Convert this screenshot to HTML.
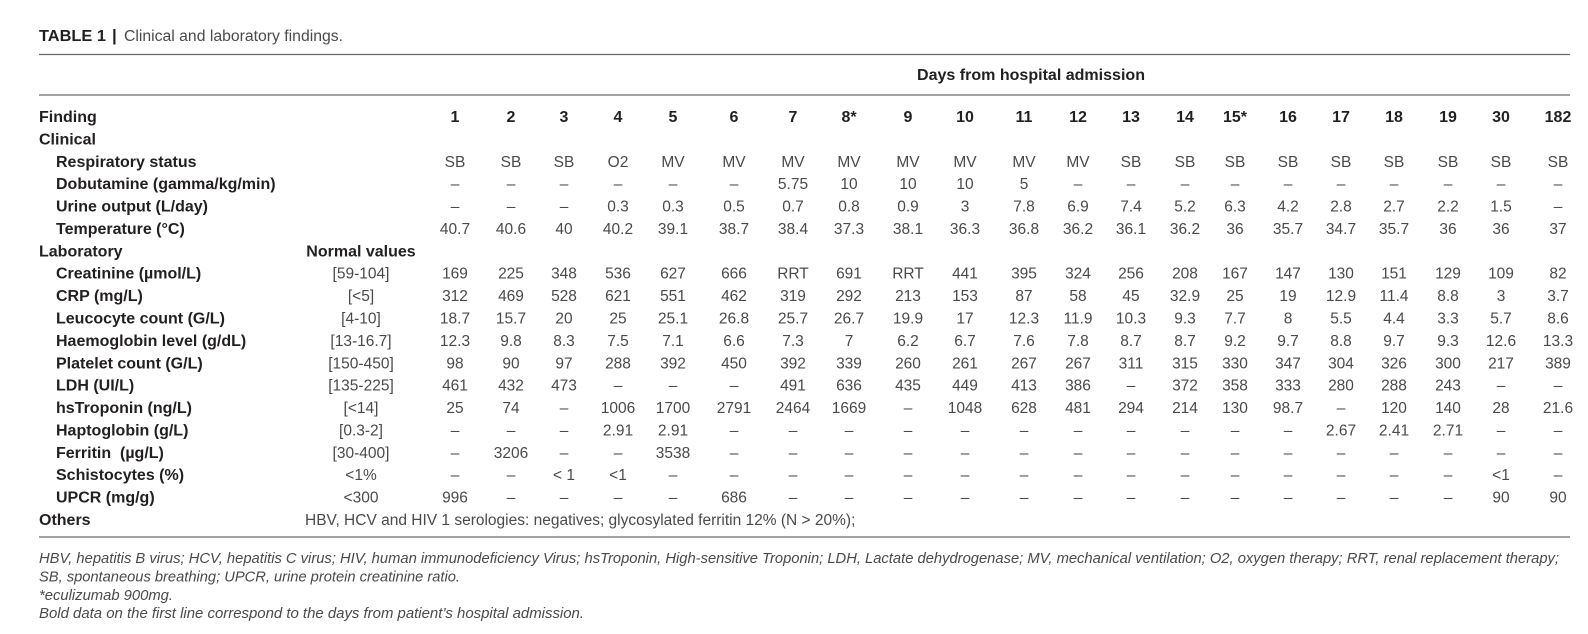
<!DOCTYPE html>
<html>
<head>
<meta charset="utf-8">
<style>
  html, body { margin: 0; padding: 0; background: #ffffff; }
  body { width: 1588px; height: 634px; overflow: hidden; }
  svg { display: block; }
  .b { font-family: "Liberation Sans", Arial, sans-serif; font-weight: bold; font-size: 16px; fill: #231f20; }
  .r { font-family: "Liberation Sans", Arial, sans-serif; font-weight: normal; font-size: 15.5px; fill: #4a4a4a; }
  .i { font-family: "Liberation Sans", Arial, sans-serif; font-style: italic; font-size: 14.7px; fill: #4a4a4a; }
  .t { font-family: "Liberation Sans", Arial, sans-serif; font-size: 15.5px; fill: #4a4a4a; }
</style>
</head>
<body>
<svg width="1588" height="634" viewBox="0 0 1588 634" xmlns="http://www.w3.org/2000/svg">
  <rect x="0" y="0" width="1588" height="634" fill="#ffffff"/>

  <!-- Title -->
  <text class="b" x="39" y="41" textLength="67" lengthAdjust="spacingAndGlyphs">TABLE 1</text>
  <text class="b" x="112" y="41" style="font-size:17px">|</text>
  <text class="t" x="124" y="41" textLength="219" lengthAdjust="spacingAndGlyphs">Clinical and laboratory findings.</text>

  <!-- Rules -->
  <line x1="39" y1="54.5" x2="1570" y2="54.5" stroke="#6a6a6a" stroke-width="1.3"/>
  <line x1="39" y1="95" x2="1570" y2="95" stroke="#6a6a6a" stroke-width="1.3"/>
  <line x1="39" y1="537" x2="1570" y2="537" stroke="#6a6a6a" stroke-width="1.3"/>

  <!-- Days header -->
  <text class="b" x="917" y="80" textLength="228" lengthAdjust="spacingAndGlyphs">Days from hospital admission</text>

  <!-- Header row -->
  <text class="b" x="39" y="122">Finding</text>
  <text class="b" y="122" text-anchor="middle"><tspan x="455">1</tspan><tspan x="511">2</tspan><tspan x="564">3</tspan><tspan x="618">4</tspan><tspan x="673">5</tspan><tspan x="734">6</tspan><tspan x="793">7</tspan><tspan x="849">8*</tspan><tspan x="908">9</tspan><tspan x="965">10</tspan><tspan x="1024">11</tspan><tspan x="1078">12</tspan><tspan x="1131">13</tspan><tspan x="1185">14</tspan><tspan x="1235">15*</tspan><tspan x="1288">16</tspan><tspan x="1341">17</tspan><tspan x="1394">18</tspan><tspan x="1448">19</tspan><tspan x="1501">30</tspan><tspan x="1558">182</tspan></text>

  <!-- Clinical -->
  <text class="b" x="39" y="144.4">Clinical</text>

  <text class="b" x="56" y="166.8">Respiratory status</text>
  <text class="r" y="166.8" text-anchor="middle"><tspan x="455">SB</tspan><tspan x="511">SB</tspan><tspan x="564">SB</tspan><tspan x="618">O2</tspan><tspan x="673">MV</tspan><tspan x="734">MV</tspan><tspan x="793">MV</tspan><tspan x="849">MV</tspan><tspan x="908">MV</tspan><tspan x="965">MV</tspan><tspan x="1024">MV</tspan><tspan x="1078">MV</tspan><tspan x="1131">SB</tspan><tspan x="1185">SB</tspan><tspan x="1235">SB</tspan><tspan x="1288">SB</tspan><tspan x="1341">SB</tspan><tspan x="1394">SB</tspan><tspan x="1448">SB</tspan><tspan x="1501">SB</tspan><tspan x="1558">SB</tspan></text>

  <text class="b" x="56" y="189.2">Dobutamine (gamma/kg/min)</text>
  <text class="r" y="189.2" text-anchor="middle"><tspan x="455">–</tspan><tspan x="511">–</tspan><tspan x="564">–</tspan><tspan x="618">–</tspan><tspan x="673">–</tspan><tspan x="734">–</tspan><tspan x="793">5.75</tspan><tspan x="849">10</tspan><tspan x="908">10</tspan><tspan x="965">10</tspan><tspan x="1024">5</tspan><tspan x="1078">–</tspan><tspan x="1131">–</tspan><tspan x="1185">–</tspan><tspan x="1235">–</tspan><tspan x="1288">–</tspan><tspan x="1341">–</tspan><tspan x="1394">–</tspan><tspan x="1448">–</tspan><tspan x="1501">–</tspan><tspan x="1558">–</tspan></text>

  <text class="b" x="56" y="211.6">Urine output (L/day)</text>
  <text class="r" y="211.6" text-anchor="middle"><tspan x="455">–</tspan><tspan x="511">–</tspan><tspan x="564">–</tspan><tspan x="618">0.3</tspan><tspan x="673">0.3</tspan><tspan x="734">0.5</tspan><tspan x="793">0.7</tspan><tspan x="849">0.8</tspan><tspan x="908">0.9</tspan><tspan x="965">3</tspan><tspan x="1024">7.8</tspan><tspan x="1078">6.9</tspan><tspan x="1131">7.4</tspan><tspan x="1185">5.2</tspan><tspan x="1235">6.3</tspan><tspan x="1288">4.2</tspan><tspan x="1341">2.8</tspan><tspan x="1394">2.7</tspan><tspan x="1448">2.2</tspan><tspan x="1501">1.5</tspan><tspan x="1558">–</tspan></text>

  <text class="b" x="56" y="234">Temperature (°C)</text>
  <text class="r" y="234" text-anchor="middle"><tspan x="455">40.7</tspan><tspan x="511">40.6</tspan><tspan x="564">40</tspan><tspan x="618">40.2</tspan><tspan x="673">39.1</tspan><tspan x="734">38.7</tspan><tspan x="793">38.4</tspan><tspan x="849">37.3</tspan><tspan x="908">38.1</tspan><tspan x="965">36.3</tspan><tspan x="1024">36.8</tspan><tspan x="1078">36.2</tspan><tspan x="1131">36.1</tspan><tspan x="1185">36.2</tspan><tspan x="1235">36</tspan><tspan x="1288">35.7</tspan><tspan x="1341">34.7</tspan><tspan x="1394">35.7</tspan><tspan x="1448">36</tspan><tspan x="1501">36</tspan><tspan x="1558">37</tspan></text>

  <!-- Laboratory -->
  <text class="b" x="39" y="256.3">Laboratory</text>
  <text class="b" x="361" y="256.3" text-anchor="middle">Normal values</text>

  <text class="b" x="56" y="278.7">Creatinine (µmol/L)</text>
  <text class="r" x="361" y="278.7" text-anchor="middle">[59-104]</text>
  <text class="r" y="278.7" text-anchor="middle"><tspan x="455">169</tspan><tspan x="511">225</tspan><tspan x="564">348</tspan><tspan x="618">536</tspan><tspan x="673">627</tspan><tspan x="734">666</tspan><tspan x="793">RRT</tspan><tspan x="849">691</tspan><tspan x="908">RRT</tspan><tspan x="965">441</tspan><tspan x="1024">395</tspan><tspan x="1078">324</tspan><tspan x="1131">256</tspan><tspan x="1185">208</tspan><tspan x="1235">167</tspan><tspan x="1288">147</tspan><tspan x="1341">130</tspan><tspan x="1394">151</tspan><tspan x="1448">129</tspan><tspan x="1501">109</tspan><tspan x="1558">82</tspan></text>

  <text class="b" x="56" y="301.1">CRP (mg/L)</text>
  <text class="r" x="361" y="301.1" text-anchor="middle">[&lt;5]</text>
  <text class="r" y="301.1" text-anchor="middle"><tspan x="455">312</tspan><tspan x="511">469</tspan><tspan x="564">528</tspan><tspan x="618">621</tspan><tspan x="673">551</tspan><tspan x="734">462</tspan><tspan x="793">319</tspan><tspan x="849">292</tspan><tspan x="908">213</tspan><tspan x="965">153</tspan><tspan x="1024">87</tspan><tspan x="1078">58</tspan><tspan x="1131">45</tspan><tspan x="1185">32.9</tspan><tspan x="1235">25</tspan><tspan x="1288">19</tspan><tspan x="1341">12.9</tspan><tspan x="1394">11.4</tspan><tspan x="1448">8.8</tspan><tspan x="1501">3</tspan><tspan x="1558">3.7</tspan></text>

  <text class="b" x="56" y="323.5">Leucocyte count (G/L)</text>
  <text class="r" x="361" y="323.5" text-anchor="middle">[4-10]</text>
  <text class="r" y="323.5" text-anchor="middle"><tspan x="455">18.7</tspan><tspan x="511">15.7</tspan><tspan x="564">20</tspan><tspan x="618">25</tspan><tspan x="673">25.1</tspan><tspan x="734">26.8</tspan><tspan x="793">25.7</tspan><tspan x="849">26.7</tspan><tspan x="908">19.9</tspan><tspan x="965">17</tspan><tspan x="1024">12.3</tspan><tspan x="1078">11.9</tspan><tspan x="1131">10.3</tspan><tspan x="1185">9.3</tspan><tspan x="1235">7.7</tspan><tspan x="1288">8</tspan><tspan x="1341">5.5</tspan><tspan x="1394">4.4</tspan><tspan x="1448">3.3</tspan><tspan x="1501">5.7</tspan><tspan x="1558">8.6</tspan></text>

  <text class="b" x="56" y="345.9">Haemoglobin level (g/dL)</text>
  <text class="r" x="361" y="345.9" text-anchor="middle">[13-16.7]</text>
  <text class="r" y="345.9" text-anchor="middle"><tspan x="455">12.3</tspan><tspan x="511">9.8</tspan><tspan x="564">8.3</tspan><tspan x="618">7.5</tspan><tspan x="673">7.1</tspan><tspan x="734">6.6</tspan><tspan x="793">7.3</tspan><tspan x="849">7</tspan><tspan x="908">6.2</tspan><tspan x="965">6.7</tspan><tspan x="1024">7.6</tspan><tspan x="1078">7.8</tspan><tspan x="1131">8.7</tspan><tspan x="1185">8.7</tspan><tspan x="1235">9.2</tspan><tspan x="1288">9.7</tspan><tspan x="1341">8.8</tspan><tspan x="1394">9.7</tspan><tspan x="1448">9.3</tspan><tspan x="1501">12.6</tspan><tspan x="1558">13.3</tspan></text>

  <text class="b" x="56" y="368.3">Platelet count (G/L)</text>
  <text class="r" x="361" y="368.3" text-anchor="middle">[150-450]</text>
  <text class="r" y="368.3" text-anchor="middle"><tspan x="455">98</tspan><tspan x="511">90</tspan><tspan x="564">97</tspan><tspan x="618">288</tspan><tspan x="673">392</tspan><tspan x="734">450</tspan><tspan x="793">392</tspan><tspan x="849">339</tspan><tspan x="908">260</tspan><tspan x="965">261</tspan><tspan x="1024">267</tspan><tspan x="1078">267</tspan><tspan x="1131">311</tspan><tspan x="1185">315</tspan><tspan x="1235">330</tspan><tspan x="1288">347</tspan><tspan x="1341">304</tspan><tspan x="1394">326</tspan><tspan x="1448">300</tspan><tspan x="1501">217</tspan><tspan x="1558">389</tspan></text>

  <text class="b" x="56" y="390.7">LDH (UI/L)</text>
  <text class="r" x="361" y="390.7" text-anchor="middle">[135-225]</text>
  <text class="r" y="390.7" text-anchor="middle"><tspan x="455">461</tspan><tspan x="511">432</tspan><tspan x="564">473</tspan><tspan x="618">–</tspan><tspan x="673">–</tspan><tspan x="734">–</tspan><tspan x="793">491</tspan><tspan x="849">636</tspan><tspan x="908">435</tspan><tspan x="965">449</tspan><tspan x="1024">413</tspan><tspan x="1078">386</tspan><tspan x="1131">–</tspan><tspan x="1185">372</tspan><tspan x="1235">358</tspan><tspan x="1288">333</tspan><tspan x="1341">280</tspan><tspan x="1394">288</tspan><tspan x="1448">243</tspan><tspan x="1501">–</tspan><tspan x="1558">–</tspan></text>

  <text class="b" x="56" y="413.1">hsTroponin (ng/L)</text>
  <text class="r" x="361" y="413.1" text-anchor="middle">[&lt;14]</text>
  <text class="r" y="413.1" text-anchor="middle"><tspan x="455">25</tspan><tspan x="511">74</tspan><tspan x="564">–</tspan><tspan x="618">1006</tspan><tspan x="673">1700</tspan><tspan x="734">2791</tspan><tspan x="793">2464</tspan><tspan x="849">1669</tspan><tspan x="908">–</tspan><tspan x="965">1048</tspan><tspan x="1024">628</tspan><tspan x="1078">481</tspan><tspan x="1131">294</tspan><tspan x="1185">214</tspan><tspan x="1235">130</tspan><tspan x="1288">98.7</tspan><tspan x="1341">–</tspan><tspan x="1394">120</tspan><tspan x="1448">140</tspan><tspan x="1501">28</tspan><tspan x="1558">21.6</tspan></text>

  <text class="b" x="56" y="435.5">Haptoglobin (g/L)</text>
  <text class="r" x="361" y="435.5" text-anchor="middle">[0.3-2]</text>
  <text class="r" y="435.5" text-anchor="middle"><tspan x="455">–</tspan><tspan x="511">–</tspan><tspan x="564">–</tspan><tspan x="618">2.91</tspan><tspan x="673">2.91</tspan><tspan x="734">–</tspan><tspan x="793">–</tspan><tspan x="849">–</tspan><tspan x="908">–</tspan><tspan x="965">–</tspan><tspan x="1024">–</tspan><tspan x="1078">–</tspan><tspan x="1131">–</tspan><tspan x="1185">–</tspan><tspan x="1235">–</tspan><tspan x="1288">–</tspan><tspan x="1341">2.67</tspan><tspan x="1394">2.41</tspan><tspan x="1448">2.71</tspan><tspan x="1501">–</tspan><tspan x="1558">–</tspan></text>

  <text class="b" x="56" y="457.9" style="white-space:pre">Ferritin  (µg/L)</text>
  <text class="r" x="361" y="457.9" text-anchor="middle">[30-400]</text>
  <text class="r" y="457.9" text-anchor="middle"><tspan x="455">–</tspan><tspan x="511">3206</tspan><tspan x="564">–</tspan><tspan x="618">–</tspan><tspan x="673">3538</tspan><tspan x="734">–</tspan><tspan x="793">–</tspan><tspan x="849">–</tspan><tspan x="908">–</tspan><tspan x="965">–</tspan><tspan x="1024">–</tspan><tspan x="1078">–</tspan><tspan x="1131">–</tspan><tspan x="1185">–</tspan><tspan x="1235">–</tspan><tspan x="1288">–</tspan><tspan x="1341">–</tspan><tspan x="1394">–</tspan><tspan x="1448">–</tspan><tspan x="1501">–</tspan><tspan x="1558">–</tspan></text>

  <text class="b" x="56" y="480.2">Schistocytes (%)</text>
  <text class="r" x="361" y="480.2" text-anchor="middle">&lt;1%</text>
  <text class="r" y="480.2" text-anchor="middle"><tspan x="455">–</tspan><tspan x="511">–</tspan><tspan x="564">&lt; 1</tspan><tspan x="618">&lt;1</tspan><tspan x="673">–</tspan><tspan x="734">–</tspan><tspan x="793">–</tspan><tspan x="849">–</tspan><tspan x="908">–</tspan><tspan x="965">–</tspan><tspan x="1024">–</tspan><tspan x="1078">–</tspan><tspan x="1131">–</tspan><tspan x="1185">–</tspan><tspan x="1235">–</tspan><tspan x="1288">–</tspan><tspan x="1341">–</tspan><tspan x="1394">–</tspan><tspan x="1448">–</tspan><tspan x="1501">&lt;1</tspan><tspan x="1558">–</tspan></text>

  <text class="b" x="56" y="502.6">UPCR (mg/g)</text>
  <text class="r" x="361" y="502.6" text-anchor="middle">&lt;300</text>
  <text class="r" y="502.6" text-anchor="middle"><tspan x="455">996</tspan><tspan x="511">–</tspan><tspan x="564">–</tspan><tspan x="618">–</tspan><tspan x="673">–</tspan><tspan x="734">686</tspan><tspan x="793">–</tspan><tspan x="849">–</tspan><tspan x="908">–</tspan><tspan x="965">–</tspan><tspan x="1024">–</tspan><tspan x="1078">–</tspan><tspan x="1131">–</tspan><tspan x="1185">–</tspan><tspan x="1235">–</tspan><tspan x="1288">–</tspan><tspan x="1341">–</tspan><tspan x="1394">–</tspan><tspan x="1448">–</tspan><tspan x="1501">90</tspan><tspan x="1558">90</tspan></text>

  <!-- Others -->
  <text class="b" x="39" y="525">Others</text>
  <text class="r" x="305" y="525">HBV, HCV and HIV 1 serologies: negatives; glycosylated ferritin 12% (N &gt; 20%);</text>

  <!-- Footnotes -->
  <text class="i" x="39" y="563" textLength="1520" lengthAdjust="spacingAndGlyphs">HBV, hepatitis B virus; HCV, hepatitis C virus; HIV, human immunodeficiency Virus; hsTroponin, High-sensitive Troponin; LDH, Lactate dehydrogenase; MV, mechanical ventilation; O2, oxygen therapy; RRT, renal replacement therapy;</text>
  <text class="i" x="39" y="581.5" textLength="421" lengthAdjust="spacingAndGlyphs">SB, spontaneous breathing; UPCR, urine protein creatinine ratio.</text>
  <text class="i" x="39" y="600" textLength="134" lengthAdjust="spacingAndGlyphs">*eculizumab 900mg.</text>
  <text class="i" x="39" y="618" textLength="545" lengthAdjust="spacingAndGlyphs">Bold data on the first line correspond to the days from patient’s hospital admission.</text>
</svg>
</body>
</html>
